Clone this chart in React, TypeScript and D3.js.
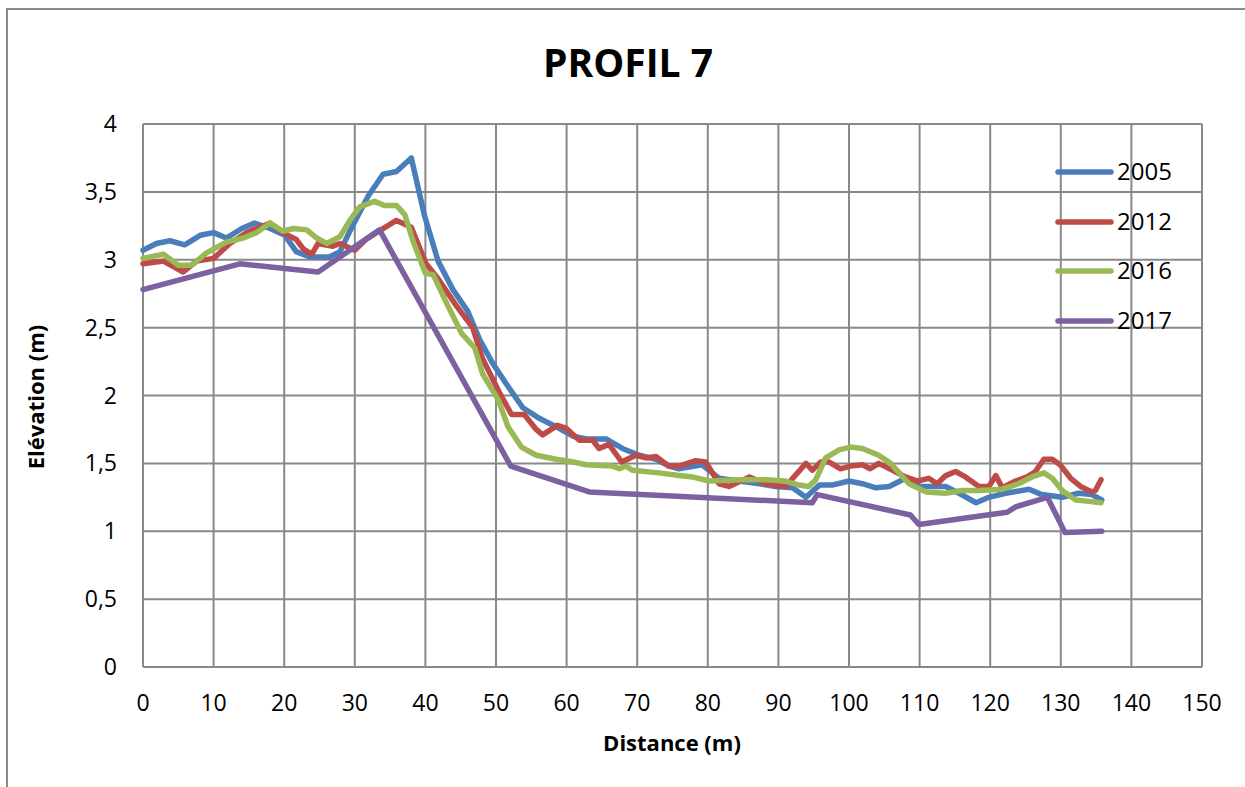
import React from "react";
import * as d3 from "d3";

type Pt = [number, number];

const seriesNames = ["2005", "2012", "2016", "2017"];
const seriesColors = ["#4A7EBB", "#BE4B48", "#98B954", "#7D60A0"];

const d2005: Pt[] = [
  [0, 3.07], [1.9, 3.12], [3.8, 3.14], [5.9, 3.11], [8.1, 3.18], [10, 3.2], [11.8, 3.16],
  [14, 3.23], [15.8, 3.27], [18, 3.23], [20.1, 3.18], [21.7, 3.06], [23.6, 3.02], [26.4, 3.02],
  [27.9, 3.06], [29.2, 3.2], [31.9, 3.47], [34, 3.63], [35.9, 3.65], [38, 3.75], [39.9, 3.32],
  [41.8, 2.99], [43.9, 2.78], [46, 2.62], [47.7, 2.41], [49.5, 2.24], [51.4, 2.09], [53.8, 1.91],
  [56.2, 1.83], [58.5, 1.77], [60.9, 1.7], [62.8, 1.68], [65.6, 1.68], [67.9, 1.61], [70.3, 1.56],
  [72.7, 1.53], [74.5, 1.48], [75.9, 1.46], [79.2, 1.49], [81.6, 1.39], [84.4, 1.37], [87.3, 1.35],
  [89.6, 1.33], [92, 1.32], [93.9, 1.25], [95.8, 1.34], [97.6, 1.34], [100, 1.37], [101.9, 1.35],
  [103.8, 1.32], [105.7, 1.33], [108, 1.39], [109.9, 1.33], [113.7, 1.33], [115.6, 1.28], [118, 1.21],
  [119.8, 1.25], [122.2, 1.28], [125.5, 1.31], [127.3, 1.27], [130.2, 1.25], [132.5, 1.28],
  [134.4, 1.27], [135.8, 1.23],
];

const d2012: Pt[] = [
  [0, 2.97], [2.9, 2.99], [5.7, 2.91], [7.6, 2.99], [10, 3.01], [12.3, 3.12], [14.7, 3.2],
  [18, 3.27], [19.8, 3.2], [21.7, 3.15], [22.7, 3.08], [23.9, 3.04], [24.8, 3.12], [26.9, 3.1],
  [27.9, 3.12], [30, 3.07], [31.6, 3.15], [34, 3.23], [35.9, 3.29], [38, 3.24], [40.1, 2.97],
  [41.8, 2.86], [44.4, 2.66], [46.7, 2.5], [48.1, 2.27], [50.5, 2.02], [52.2, 1.86], [54, 1.86],
  [55.7, 1.75], [56.6, 1.71], [58.7, 1.78], [59.9, 1.76], [61.8, 1.67], [63.7, 1.67], [64.6, 1.61],
  [66, 1.64], [67.8, 1.51], [69.8, 1.56], [71.2, 1.54], [72.7, 1.55], [74.5, 1.48], [75.9, 1.48],
  [78.3, 1.52], [79.7, 1.51], [81.6, 1.35], [83, 1.33], [85.9, 1.4], [88.2, 1.35], [91, 1.33],
  [93.9, 1.5], [94.8, 1.45], [96, 1.51], [97.2, 1.51], [98.8, 1.46], [100.2, 1.48], [101.9, 1.49],
  [103, 1.46], [104.2, 1.5], [106.1, 1.45], [108, 1.4], [109.7, 1.37], [111.3, 1.39], [112.5, 1.35],
  [113.7, 1.41], [115.1, 1.44], [116.5, 1.4], [118.4, 1.33], [119.8, 1.33], [120.8, 1.41],
  [121.7, 1.32], [123.6, 1.37], [125.2, 1.4], [126.4, 1.44], [127.6, 1.53], [128.8, 1.53],
  [129.9, 1.49], [131.4, 1.39], [132.8, 1.33], [134.4, 1.29], [134.9, 1.3], [135.7, 1.38],
];

const d2016: Pt[] = [
  [0, 3.01], [2.9, 3.04], [5, 2.96], [6.9, 2.96], [9, 3.05], [11.8, 3.13], [14.2, 3.16],
  [16.1, 3.2], [18, 3.27], [19.8, 3.21], [21.3, 3.23], [23.2, 3.22], [24.6, 3.16], [26, 3.12],
  [27.9, 3.17], [29.3, 3.29], [30.7, 3.39], [32.8, 3.43], [34.2, 3.4], [35.9, 3.4], [37.1, 3.33],
  [38.3, 3.13], [40, 2.9], [41.1, 2.89], [43, 2.68], [45.1, 2.46], [47, 2.35], [48.1, 2.16],
  [50.3, 1.97], [51.7, 1.77], [53.6, 1.62], [55.7, 1.56], [58.5, 1.53], [60.9, 1.51], [62.8, 1.49],
  [66.5, 1.48], [67.5, 1.46], [68.4, 1.48], [69.3, 1.45], [73.1, 1.43], [75.9, 1.41], [77.8, 1.4],
  [80.2, 1.37], [84.9, 1.38], [88.2, 1.38], [91, 1.37], [92.9, 1.34], [94.3, 1.33], [95.3, 1.38],
  [96.7, 1.54], [98.6, 1.6], [100.2, 1.62], [101.9, 1.61], [104.2, 1.56], [105.9, 1.5],
  [107.1, 1.43], [108.5, 1.35], [110.9, 1.29], [113.7, 1.28], [116, 1.3], [118.4, 1.3],
  [121.7, 1.31], [124, 1.35], [125.9, 1.4], [127.6, 1.43], [128.8, 1.39], [130.2, 1.3],
  [132.1, 1.23], [134, 1.22], [135.7, 1.21],
];

const d2017: Pt[] = [
  [0, 2.78], [13.7, 2.97], [24.8, 2.91], [33.5, 3.22], [52.1, 1.48], [63.2, 1.29], [94.8, 1.21],
  [95.5, 1.27], [108.7, 1.12], [109.9, 1.05], [122.4, 1.14], [123.6, 1.18], [128.1, 1.25],
  [130.6, 0.99], [135.8, 1.0],
];

const seriesData = [d2005, d2012, d2016, d2017];

const xTicks = d3.range(0, 151, 10);
const yTicks = [0, 0.5, 1, 1.5, 2, 2.5, 3, 3.5, 4];

const titleText = "PROFIL 7";
const xTitle = "Distance (m)";
const yTitle = "Elévation (m)";

const FONT = "'Open Sans', 'Liberation Sans', sans-serif";

export default function App() {
  const W = 1245;
  const H = 787;
  const x = d3.scaleLinear().domain([0, 150]).range([143, 1202]);
  const y = d3.scaleLinear().domain([0, 4]).range([667, 124]);
  const line = d3
    .line<Pt>()
    .x((d) => x(d[0]))
    .y((d) => y(d[1]));
  const fmtY = (v: number) => d3.format("")(v).replace(".", ",");

  const legendY = [172, 222, 271, 321];

  return (
    <svg
      width={W}
      height={H}
      style={{ position: "absolute", left: 0, top: 0, background: "#fff" }}
      fontFamily={FONT}
    >
      <rect x={0} y={0} width={W} height={H} fill="#fff" />
      <rect x={7} y={9} width={W + 20} height={H + 20} fill="none" stroke="#8a8a8a" strokeWidth={2} />

      {/* grid */}
      {yTicks.map((t) => (
        <line key={"gy" + t} x1={x(0)} x2={x(150)} y1={y(t)} y2={y(t)} stroke="#898989" strokeWidth={2} />
      ))}
      {xTicks.map((t) => (
        <line key={"gx" + t} x1={x(t)} x2={x(t)} y1={y(0)} y2={y(4)} stroke="#898989" strokeWidth={2} />
      ))}

      {/* y tick labels */}
      {yTicks.map((t) => (
        <text key={"ly" + t} x={117} y={y(t)} dy="0.35em" textAnchor="end" fontSize={23} fill="#000">
          {fmtY(t)}
        </text>
      ))}
      {/* x tick labels */}
      {xTicks.map((t) => (
        <text key={"lx" + t} x={x(t)} y={711} textAnchor="middle" fontSize={23} fill="#000">
          {t}
        </text>
      ))}

      {/* series */}
      {seriesData.map((d, i) => (
        <path
          key={seriesNames[i]}
          d={line(d) || ""}
          fill="none"
          stroke={seriesColors[i]}
          strokeWidth={5.5}
          strokeLinejoin="round"
          strokeLinecap="round"
        />
      ))}

      {/* legend */}
      {seriesNames.map((n, i) => (
        <g key={"lg" + n}>
          <line x1={1058} x2={1111} y1={legendY[i]} y2={legendY[i]} stroke={seriesColors[i]} strokeWidth={5.5} strokeLinecap="round" />
          <text x={1117} y={legendY[i]} dy="0.35em" fontSize={24} fill="#000">
            {n}
          </text>
        </g>
      ))}

      {/* titles */}
      <text x={628} y={77} textAnchor="middle" fontSize={39} fontWeight="bold" fill="#000">
        {titleText}
      </text>
      <text x={672} y={751} textAnchor="middle" fontSize={22} fontWeight="bold" fill="#000">
        {xTitle}
      </text>
      <text
        transform={`translate(36, ${397}) rotate(-90)`}
        textAnchor="middle"
        dy="0.35em"
        fontSize={22}
        fontWeight="bold"
        fill="#000"
      >
        {yTitle}
      </text>
    </svg>
  );
}
